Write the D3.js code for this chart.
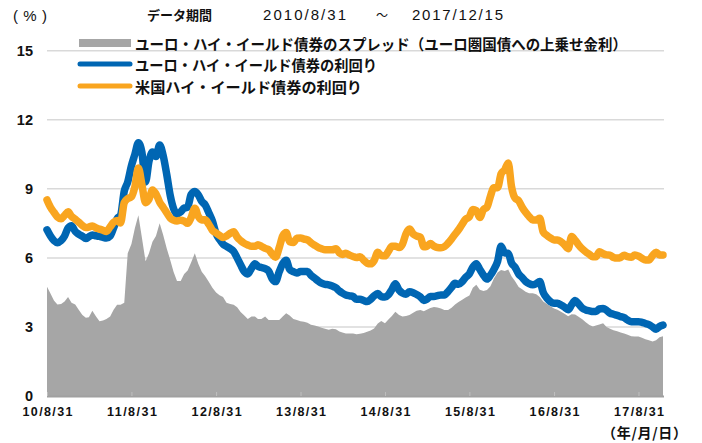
<!DOCTYPE html>
<html>
<head>
<meta charset="utf-8">
<script src="https://cdn.jsdelivr.net/npm/d3@7"></script>
<style>
  body { margin: 0; background: #fff; }
  svg { display: block; }
</style>
</head>
<body>
<div id="chart"></div>
<script>
// semi-monthly observations: 2010/8/31, then the 15th and month end up to 2017/12/15
let startDate = new Date(2010, 7, 31),
    endDate = new Date(2017, 11, 15);

let euroSpread = [
  4.75,4.45,4.15,3.98,4.0,4.1,4.3,4.05,3.98,3.75,3.52,3.4,3.42,3.7,3.45,3.25,3.28,3.35,3.45,3.75,3.96,3.96,4.05,6.2,6.6,
  7.3,7.85,6.9,5.85,6.2,6.7,6.95,7.5,7.0,6.4,5.9,5.4,5.0,5.0,5.3,5.45,5.8,6.2,5.75,5.4,
  5.2,4.95,4.7,4.5,4.38,4.3,4.05,4.0,3.96,3.85,3.65,3.5,3.35,3.45,3.45,3.35,3.35,3.45,3.3,3.3,3.3,3.3,
  3.45,3.6,3.5,3.35,3.3,3.25,3.23,3.18,3.1,3.06,3.02,2.97,2.92,2.88,2.92,2.9,2.8,2.76,2.72,2.72,2.72,2.68,
  2.7,2.74,2.79,2.85,2.93,3.15,3.26,3.16,3.32,3.47,3.66,3.52,3.45,3.47,3.52,3.62,3.7,3.74,3.68,3.75,3.82,3.87,
  3.84,3.8,3.74,3.74,3.83,3.97,4.08,4.18,4.28,4.37,4.7,4.83,4.62,4.56,4.6,4.77,5.1,5.37,5.47,5.43,5.5,
  5.2,5.0,4.74,4.64,4.53,4.46,4.46,4.42,4.3,4.1,4.0,3.9,3.8,3.75,3.66,3.57,3.46,3.55,3.54,3.44,3.33,3.2,
  3.08,3.02,3.06,3.11,3.16,3.0,2.92,2.86,2.81,2.76,2.71,2.66,2.6,2.58,2.58,2.53,2.47,2.42,2.37,2.42,2.55,2.6
];

let euroYield = [
  7.22,6.95,6.75,6.66,6.75,6.95,7.3,7.4,7.15,7.03,6.94,6.84,6.92,6.99,6.96,6.93,6.89,6.86,6.95,7.3,7.7,7.85,8.9,9.3,10.0,
  10.5,11.0,10.6,9.3,10.2,10.6,10.4,10.9,10.45,9.6,8.7,8.15,7.9,8.0,8.16,8.2,8.75,8.88,8.74,8.45,
  8.3,7.95,7.6,7.05,6.8,6.6,6.5,6.4,6.28,6.0,5.7,5.4,5.3,5.55,5.75,5.63,5.58,5.53,5.43,5.1,4.97,5.4,
  5.75,5.9,5.5,5.4,5.34,5.41,5.41,5.41,5.25,5.12,5.0,4.9,4.85,4.83,4.78,4.7,4.56,4.47,4.39,4.35,4.32,4.2,
  4.2,4.15,4.1,4.2,4.35,4.45,4.32,4.3,4.4,4.63,4.88,4.6,4.47,4.42,4.53,4.49,4.41,4.31,4.15,4.2,4.32,4.32,
  4.36,4.39,4.39,4.54,4.72,4.9,4.85,4.97,5.16,5.31,5.6,5.75,5.5,5.25,5.08,5.25,5.5,5.85,6.5,6.22,6.2,
  5.78,5.6,5.3,5.15,4.98,4.88,4.83,4.88,4.97,4.5,4.25,4.1,4.03,4.03,3.95,3.86,3.75,3.96,4.15,4.0,3.82,3.74,
  3.7,3.67,3.67,3.78,3.8,3.72,3.6,3.55,3.5,3.45,3.4,3.3,3.23,3.23,3.23,3.2,3.15,3.1,3.0,2.9,3.02,3.08
];

let usYield = [
  8.52,8.2,7.98,7.78,7.7,7.85,8.0,7.8,7.68,7.55,7.41,7.32,7.34,7.39,7.3,7.25,7.2,7.15,7.35,7.55,7.62,7.52,8.4,8.57,8.66,
  9.1,9.9,9.2,8.4,8.55,8.95,8.78,8.42,8.2,7.95,7.73,7.64,7.6,7.64,7.6,7.5,7.75,8.16,7.8,7.65,
  7.66,7.45,7.2,7.08,6.98,6.88,6.95,7.07,7.14,6.9,6.75,6.63,6.56,6.5,6.5,6.57,6.5,6.41,6.36,6.17,6.03,6.45,
  6.95,7.1,6.7,6.67,6.85,6.86,6.82,6.78,6.66,6.55,6.46,6.4,6.35,6.35,6.35,6.4,6.22,6.15,6.2,6.12,6.06,6.02,
  6.05,5.9,5.77,5.74,5.88,6.24,6.1,6.09,6.29,6.5,6.5,6.45,6.6,7.05,7.25,7.04,6.95,6.9,6.48,6.5,6.62,6.51,
  6.45,6.44,6.49,6.64,6.82,7.03,7.22,7.47,7.68,7.79,8.1,8.05,7.75,8.1,8.2,8.68,9.05,9.05,9.65,9.83,10.12,
  9.1,8.6,8.48,8.2,7.98,7.8,7.65,7.65,7.72,7.13,6.98,6.87,6.78,6.78,6.7,6.57,6.4,6.93,6.77,6.57,6.39,6.26,
  6.15,6.05,6.05,6.27,6.18,6.13,6.12,6.02,5.99,6.02,6.11,6.05,6.03,6.13,6.08,5.98,5.91,5.91,6.1,6.25,6.13,6.13
];

let yTicks = [0, 3, 6, 9, 12, 15];
let xTickLabels = ["10/8/31", "11/8/31", "12/8/31", "13/8/31", "14/8/31", "15/8/31", "16/8/31", "17/8/31"];
let legendLabels = [
  "ユーロ・ハイ・イールド債券のスプレッド（ユーロ圏国債への上乗せ金利）",
  "ユーロ・ハイ・イールド債券の利回り",
  "米国ハイ・イールド債券の利回り"
];

let dates = [startDate];
d3.timeMonth.range(new Date(2010, 8, 1), new Date(2018, 0, 1)).forEach(m => {
    dates.push(new Date(m.getFullYear(), m.getMonth(), 15));
    let last = new Date(m.getFullYear(), m.getMonth() + 1, 0);
    if (last <= endDate) dates.push(last);
});

let width = 702,
    height = 443;

let jp = "'Noto Sans CJK JP', sans-serif",
    num = "'Liberation Sans', Arial, sans-serif";

let x = d3.scaleTime()
    .domain([startDate, endDate])
    .range([47, 663]);

let y = d3.scaleLinear()
    .domain([0, 15])
    .range([396, 50.7]);

let svg = d3.select("#chart").append("svg")
    .attr("width", width)
    .attr("height", height);

// gridlines
svg.append("g")
    .selectAll("line")
    .data(yTicks.slice(1))
    .enter()
    .append("line")
    .attr("x1", 47)
    .attr("x2", 664)
    .attr("y1", d => y(d))
    .attr("y2", d => y(d))
    .attr("stroke", "#d9d9d9")
    .attr("stroke-width", 1.5);

let area = d3.area()
    .x((d, i) => x(dates[i]))
    .y0(y(0))
    .y1(d => y(d));

svg.append("path")
    .datum(euroSpread)
    .attr("d", area)
    .attr("fill", "#a6a6a6");

let line = d3.line()
    .x((d, i) => x(dates[i]))
    .y(d => y(d))
    .curve(d3.curveMonotoneX);

svg.append("path")
    .datum(euroYield)
    .attr("d", line)
    .attr("fill", "none")
    .attr("stroke", "#0066b3")
    .attr("stroke-width", 7.5)
    .attr("stroke-linejoin", "round")
    .attr("stroke-linecap", "round");

svg.append("path")
    .datum(usYield)
    .attr("d", line)
    .attr("fill", "none")
    .attr("stroke", "#f9a51f")
    .attr("stroke-width", 7.5)
    .attr("stroke-linejoin", "round")
    .attr("stroke-linecap", "round");

// x axis
let xTickDates = xTickLabels.map(d => d3.timeParse("%y/%m/%d")(d));

let xAxis = svg.append("g")
    .attr("transform", "translate(0," + y(0) + ")")
    .call(d3.axisBottom(x)
        .tickValues(xTickDates)
        .tickSizeInner(-4)
        .tickSizeOuter(0)
        .tickFormat((d, i) => xTickLabels[i]));

xAxis.select(".domain")
    .attr("d", "M47,0.5H664")
    .attr("stroke", "#a0a0a0")
    .attr("stroke-width", 2);

xAxis.selectAll(".tick line")
    .attr("stroke", "#bfbfbf");

xAxis.selectAll(".tick text")
    .attr("y", 16)
    .attr("dy", "0.35em")
    .attr("font-family", num)
    .attr("font-weight", "bold")
    .attr("font-size", 12.5)
    .attr("fill", "#111")
    .attr("textLength", 50)
    .attr("lengthAdjust", "spacing");

// y axis
let yAxis = svg.append("g")
    .attr("transform", "translate(33,0)")
    .call(d3.axisLeft(y)
        .tickValues(yTicks)
        .tickSize(0)
        .tickPadding(0));

yAxis.select(".domain").remove();

yAxis.selectAll(".tick text")
    .attr("font-family", num)
    .attr("font-weight", "bold")
    .attr("font-size", 14.5)
    .attr("fill", "#111");

// header
let header = [
    {text: "(%)", x: 13, y: 15, w: 34, font: num, size: 15, weight: "normal"},
    {text: "データ期間", x: 147, y: 14, w: 65, font: jp, size: 13, weight: "bold"},
    {text: "2010/8/31", x: 263, y: 14, w: 83, font: num, size: 15, weight: "normal"},
    {text: "～", x: 376, y: 14, w: 12, font: jp, size: 12, weight: "normal"},
    {text: "2017/12/15", x: 412, y: 14, w: 91, font: num, size: 15, weight: "normal"},
    {text: "（年/月/日）", x: 602, y: 432, w: 85, font: jp, size: 14, weight: "bold"}
];

svg.append("g")
    .selectAll("text")
    .data(header)
    .enter()
    .append("text")
    .attr("x", d => d.x)
    .attr("y", d => d.y)
    .attr("dominant-baseline", "central")
    .attr("font-family", d => d.font)
    .attr("font-size", d => d.size)
    .attr("font-weight", d => d.weight)
    .attr("fill", "#111")
    .attr("textLength", d => d.w)
    .attr("lengthAdjust", "spacing")
    .text(d => d.text);

// legend
let legendY = [43, 64, 86],
    legendW = [492, 242, 227];

let legend = svg.append("g");

legend.append("rect")
    .attr("x", 79)
    .attr("y", 39)
    .attr("width", 52)
    .attr("height", 8)
    .attr("fill", "#a6a6a6");

legend.selectAll("line")
    .data([{y: legendY[1], c: "#0066b3"}, {y: legendY[2], c: "#f9a51f"}])
    .enter()
    .append("line")
    .attr("x1", 80)
    .attr("x2", 130)
    .attr("y1", d => d.y)
    .attr("y2", d => d.y)
    .attr("stroke", d => d.c)
    .attr("stroke-width", 5)
    .attr("stroke-linecap", "round");

legend.selectAll("text")
    .data(legendLabels)
    .enter()
    .append("text")
    .attr("x", 135)
    .attr("y", (d, i) => legendY[i])
    .attr("dominant-baseline", "central")
    .attr("font-family", jp)
    .attr("font-size", 15)
    .attr("font-weight", "bold")
    .attr("fill", "#111")
    .attr("textLength", (d, i) => legendW[i])
    .attr("lengthAdjust", "spacingAndGlyphs")
    .text(d => d);
</script>
</body>
</html>
